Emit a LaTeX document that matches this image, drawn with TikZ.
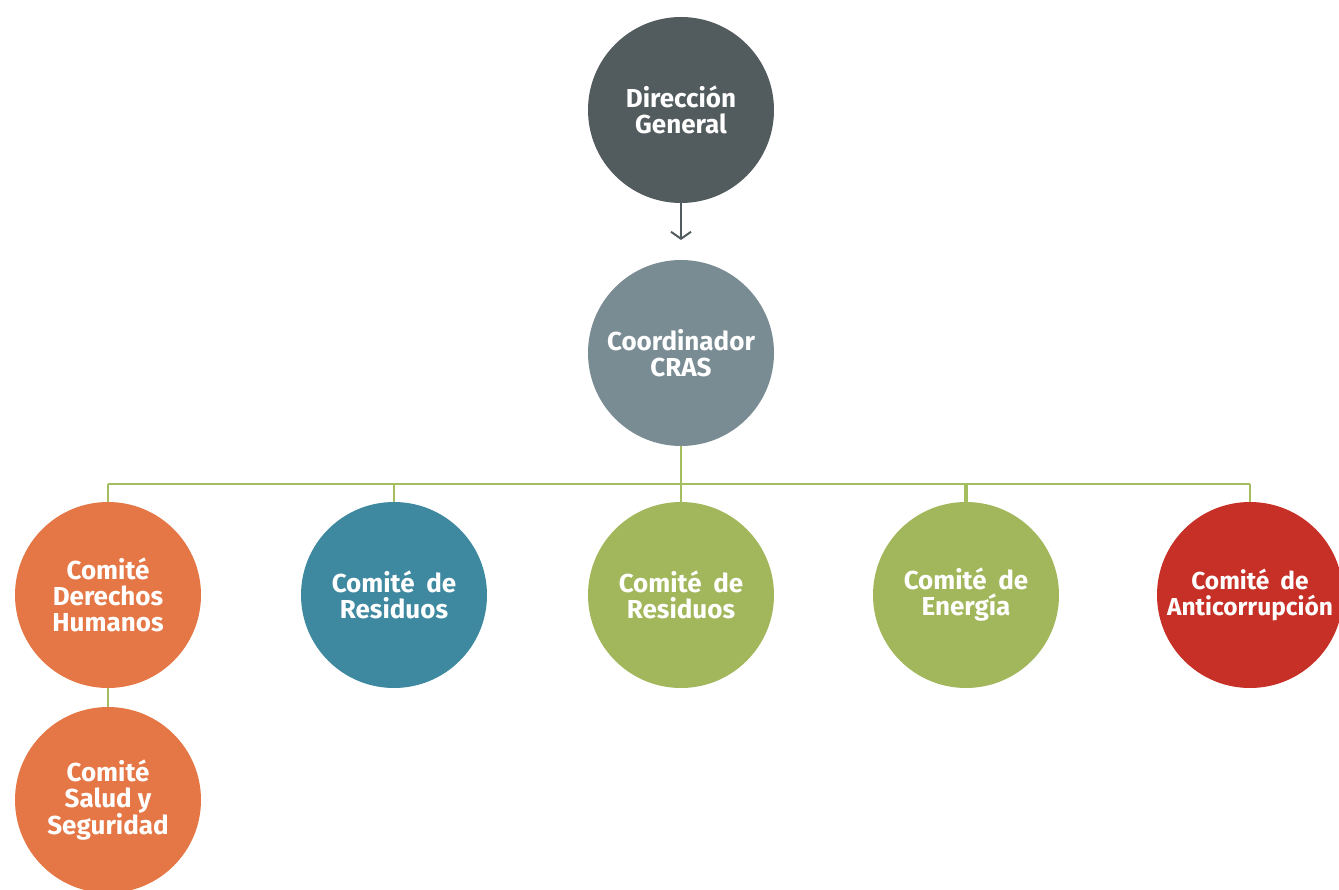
\documentclass[tikz,border=0pt]{standalone}
\usepackage{fontspec}
\setmainfont{Fira Sans}
\usetikzlibrary{arrows.meta}
\definecolor{dgrey}{HTML}{525B5E}
\definecolor{lgrey}{HTML}{7A8C93}
\definecolor{corange}{HTML}{E57746}
\definecolor{cteal}{HTML}{3E89A0}
\definecolor{cgreen}{HTML}{A2B75B}
\definecolor{cred}{HTML}{C63026}
\definecolor{lgreen}{HTML}{A3BD5F}
\tikzset{
  bub/.style={circle, minimum size=186pt, inner sep=0pt, text=white,
    font=\fontsize{26}{26}\selectfont\bfseries, align=center},
  bus/.style={draw=lgreen, line width=2.8pt},
}
\newcommand{\wsp}{\hspace{0.45em}}
\begin{document}
\begin{tikzpicture}[x=1pt,y=-1pt]
\useasboundingbox (0,0) rectangle (1339,890);
\node[bub, fill=dgrey] (dg) at (681,110) {Dirección\\General};
\node[bub, fill=lgrey] (cr) at (681,353) {Coordinador\\CRAS};
\node[bub, fill=corange] (dh) at (108,595) {Comité\\Derechos\\Humanos};
\node[bub, fill=cteal] (r1) at (394,595) {Comité\wsp de\\Residuos};
\node[bub, fill=cgreen] (r2) at (681,595) {Comité\wsp de\\Residuos};
\node[bub, fill=cgreen] (en) at (966,595) {Comité\wsp de\\Energía};
\node[bub, fill=cred, font=\fontsize{24.5}{26}\selectfont\bfseries] (an) at (1250,595) {Comité\wsp de\\Anticorrupción};
\node[bub, fill=corange] (ss) at (108,800) {Comité\\Salud y\\Seguridad};
\coordinate (arr) at (681,240);
\draw[dgrey, line width=2pt, -{Straight Barb[length=7pt,width=20pt,line width=2pt]}] (dg.south) -- (arr);
\coordinate (b0) at (108,484);
\coordinate (b5) at (1250,484);
\coordinate (bc) at (681,484);
\draw[bus] (cr.south) -- (bc);
\draw[bus] (b0) -- (b5);
\draw[bus] (b0) -- (dh.north);
\draw[bus] (b5) -- (an.north);
\draw[bus] (r1.north) -- (r1.north |- bc);
\draw[bus] (r2.north) -- (bc);
\draw[bus, line width=3.6pt] (en.north) -- (en.north |- bc);
\draw[bus] (dh.south) -- (ss.north);
\end{tikzpicture}
\end{document}
